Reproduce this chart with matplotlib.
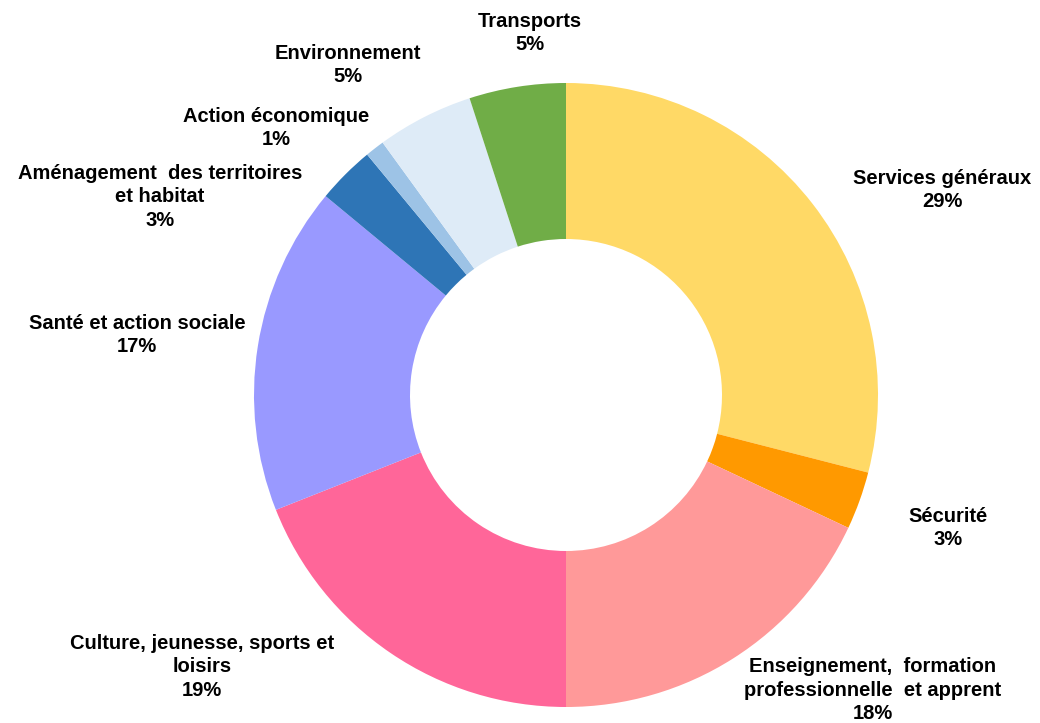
import matplotlib
matplotlib.use("Agg")
import matplotlib.pyplot as plt

categories = [
    "Services généraux",
    "Sécurité",
    "Enseignement,  formation\nprofessionnelle  et apprent",
    "Culture, jeunesse, sports et\nloisirs",
    "Santé et action sociale",
    "Aménagement  des territoires\net habitat",
    "Action économique",
    "Environnement",
    "Transports",
]
shares = [29, 3, 18, 19, 17, 3, 1, 5, 5]
colors = ["#FFD966", "#FF9900", "#FF9999", "#FF6699", "#9999FF",
          "#2E75B6", "#9DC3E6", "#DEEBF7", "#70AD47"]

# label block centres, in pixels of the 1040x723 canvas
label_px = [(942, 190), (948, 528), (873, 690), (202, 667), (137, 335),
            (160, 197), (276, 128), (348, 65), (530, 33)]

W, H = 1040, 723
cx, cy, R = 566, 395, 312

plt.rcParams["font.family"] = ["Liberation Sans", "DejaVu Sans"]
fig = plt.figure(figsize=(W / 100, H / 100), dpi=100)
ax = fig.add_axes([0, 0, 1, 1])

ax.pie(shares, colors=colors, startangle=90, counterclock=False,
       radius=1.0, wedgeprops=dict(width=0.5, linewidth=0))

ax.set_xlim(-cx / R, (W - cx) / R)
ax.set_ylim(-(H - cy) / R, cy / R)
ax.set_aspect("auto")
ax.axis("off")

for name, val, (px, py) in zip(categories, shares, label_px):
    ax.text((px - cx) / R, (cy - py) / R, f"{name}\n{val}%",
            ha="center", va="center", fontsize=14.5, fontweight="bold",
            color="#000000", linespacing=1.28)

fig.savefig("out.png", dpi=100)
